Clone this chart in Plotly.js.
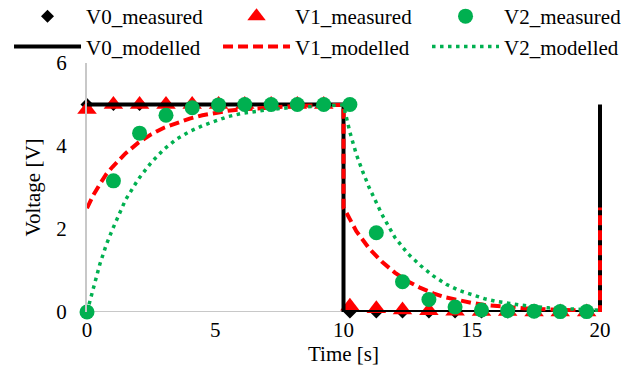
<!DOCTYPE html>
<html>
<head>
<meta charset="utf-8">
<script src="https://cdn.plot.ly/plotly-3.0.1.min.js"></script>
<style>html,body{margin:0;padding:0;background:#fff;}#chart{width:642px;height:365px;}</style>
</head>
<body>
<div id="chart"></div>
<script>
// Measured samples
var tMeas = [0, 1.03, 2.05, 3.08, 4.1, 5.13, 6.15, 7.18, 8.2, 9.23, 10.25, 11.28, 12.3, 13.33, 14.35, 15.38, 16.4, 17.43, 18.45, 19.48];
var v0Meas = [5, 5, 5, 5, 5, 5, 5, 5, 5, 5, 0, 0, 0, 0, 0, 0, 0, 0, 0, 0];
var v1Meas = [4.88, 5, 5, 5, 5, 5, 5, 5, 5, 5, 0.14, 0.08, 0.05, 0.03, 0.02, 0.01, 0.01, 0, 0, 0];
var v2Meas = [0, 3.16, 4.31, 4.74, 4.92, 4.99, 5, 5, 5, 5, 5, 1.91, 0.73, 0.3, 0.12, 0.05, 0.03, 0.02, 0.01, 0.01];

// Modelled curves
var tV0Mod = [0, 10, 10, 20, 20];
var v0Mod = [5, 5, 0, 0, 5];

var tV1Mod = [0, 0.25, 0.5, 0.75, 1, 1.5, 2, 2.5, 3, 3.5, 4, 4.5, 5, 5.5, 6, 7, 8, 9, 10,
              10, 10.25, 10.5, 11, 11.5, 12, 12.5, 13, 13.5, 14, 14.5, 15, 15.5, 16, 17, 18, 19, 20, 20];
var v1Mod = [2.5, 2.82, 3.08, 3.32, 3.5, 3.82, 4.08, 4.28, 4.44, 4.56, 4.66, 4.74, 4.8, 4.85, 4.88, 4.93, 4.96, 4.98, 4.99,
             2.52, 2.21, 1.95, 1.53, 1.21, 0.95, 0.74, 0.58, 0.45, 0.35, 0.28, 0.22, 0.17, 0.14, 0.09, 0.06, 0.04, 0.03, 2.52];

var tV2Mod = [0, 0.25, 0.5, 0.75, 1, 1.5, 2, 2.5, 3, 3.5, 4, 4.5, 5, 5.5, 6, 7, 8, 9, 10,
              10.25, 10.5, 10.75, 11, 11.5, 12, 12.5, 13, 13.5, 14, 14.5, 15, 15.5, 16, 17, 18, 19, 20];
var v2Mod = [0, 0.6, 1.15, 1.62, 2.0, 2.7, 3.2, 3.6, 3.92, 4.17, 4.35, 4.49, 4.61, 4.71, 4.78, 4.87, 4.93, 4.97, 4.99,
             4.33, 3.8, 3.38, 3.0, 2.35, 1.8, 1.41, 1.12, 0.87, 0.67, 0.52, 0.42, 0.32, 0.25, 0.16, 0.1, 0.06, 0.04];

var xTickVals = [0, 5, 10, 15, 20];
var yTickVals = [0, 2, 4, 6];
var xMax = 20;

function f(sz) { return {family: 'Times New Roman', size: sz, color: '#000000'}; }

var traces = [
  {x: tMeas, y: v0Meas, name: 'V0_measured', mode: 'markers', type: 'scatter', legendrank: 1, cliponaxis: false,
   marker: {symbol: 'diamond', size: 10, color: '#000000'}},
  {x: tMeas, y: v1Meas, name: 'V1_measured', mode: 'markers', type: 'scatter', legendrank: 2, cliponaxis: false,
   marker: {symbol: 'triangle-up', size: 17, color: '#ff0000'}},
  {x: tV0Mod, y: v0Mod, name: 'V0_modelled', mode: 'lines', type: 'scatter', legendrank: 4, cliponaxis: false,
   line: {color: '#000000', width: 4}},
  {x: tV1Mod, y: v1Mod, name: 'V1_modelled', mode: 'lines', type: 'scatter', legendrank: 5, cliponaxis: false,
   line: {color: '#ff0000', width: 4, dash: '10px,5px'}},
  {x: tV2Mod, y: v2Mod, name: 'V2_modelled', mode: 'lines', type: 'scatter', legendrank: 6, cliponaxis: false,
   line: {color: '#00b050', width: 3.5, dash: '3.5px,4.5px'}},
  {x: tMeas, y: v2Meas, name: 'V2_measured', mode: 'markers', type: 'scatter', legendrank: 3, cliponaxis: false,
   marker: {symbol: 'circle', size: 15, color: '#00b050'}}
];

// plot area: 0 -> 87px, 20 -> 600px (25.65 px per unit); the extra room to the right keeps the legend on 3 columns
var layout = {
  width: 642, height: 365,
  margin: {l: 87, r: 0, t: 63, b: 53, autoexpand: false},
  paper_bgcolor: '#ffffff', plot_bgcolor: '#ffffff',
  showlegend: true,
  legend: {
    orientation: 'h', x: -0.1405, xanchor: 'left', y: 1.269, yanchor: 'top',
    itemwidth: 67, entrywidth: 127, entrywidthmode: 'pixels',
    font: f(21),
    bgcolor: 'rgba(0,0,0,0)', traceorder: 'normal'
  },
  xaxis: {
    range: [0, 555 / 25.65], tickvals: xTickVals, showgrid: false, zeroline: false,
    showline: false, ticks: '',
    ticklabelstandoff: 3,
    tickfont: f(21)
  },
  yaxis: {
    range: [0, 6], tickvals: yTickVals, showgrid: false, zeroline: false,
    showline: true, linecolor: '#c8c8c8', linewidth: 2, ticks: '',
    ticklabelstandoff: 14,
    tickfont: f(21),
    title: {text: 'Voltage [V]', font: f(21), standoff: 10}
  },
  shapes: [
    {type: 'line', xref: 'x', yref: 'y', x0: 0, x1: xMax, y0: 0, y1: 0, layer: 'below',
     line: {color: '#c8c8c8', width: 2}}
  ],
  annotations: [
    {text: 'Time [s]', xref: 'x', yref: 'paper', x: xMax / 2, y: -0.169, xanchor: 'center', yanchor: 'middle',
     showarrow: false, font: f(21)}
  ]
};

Plotly.newPlot('chart', traces, layout, {displayModeBar: false, staticPlot: true});
</script>
</body>
</html>
